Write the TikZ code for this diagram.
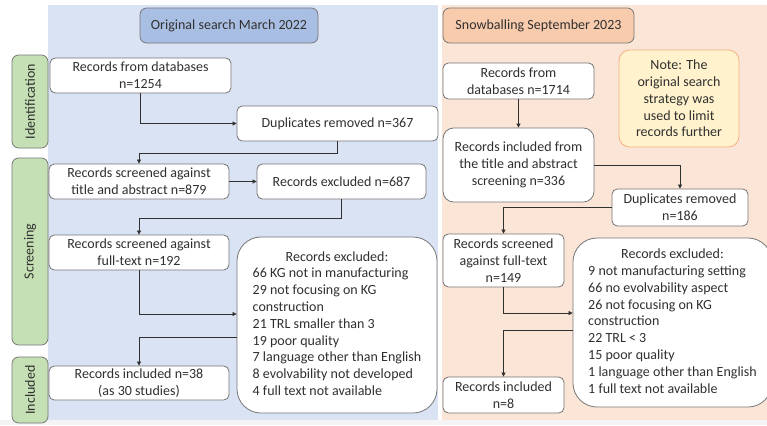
\documentclass[tikz,border=0pt]{standalone}
\usepackage{fontspec}
\setmainfont{Carlito}
\usetikzlibrary{arrows.meta}
\definecolor{panelblue}{HTML}{DAE3F3}
\definecolor{panelpeach}{HTML}{FBE5D6}
\definecolor{titleblue}{HTML}{A9BEE3}
\definecolor{titlepeach}{HTML}{F8CBAD}
\definecolor{phasegreen}{HTML}{C5E0B4}
\definecolor{notefill}{HTML}{FFF2CC}
\definecolor{noteedge}{HTML}{F4B183}
\definecolor{edgegray}{HTML}{767676}
\definecolor{txtgray}{HTML}{303030}
\definecolor{bggray}{HTML}{F4F4F4}
\tikzset{
  box/.style={draw=edgegray, fill=white, rounded corners=4pt, line width=0.6pt,
    text=txtgray, align=center, inner sep=1pt},
  bigbox/.style={box, rounded corners=18pt},
  titlebox/.style={draw=edgegray, rounded corners=5pt, line width=0.6pt,
    text=txtgray, align=center, inner sep=1pt},
  phase/.style={draw=edgegray, fill=phasegreen, rounded corners=5pt, line width=0.6pt,
    text=txtgray, rotate=90, inner sep=1pt},
  notebox/.style={draw=noteedge, fill=notefill, rounded corners=8pt, line width=0.6pt,
    text=txtgray, align=center, inner sep=1pt},
  flow/.style={draw=txtgray, line width=0.5pt, -{Triangle[length=3pt,width=3pt]}}
}
\begin{document}
\begin{tikzpicture}[x=0.75pt,y=-0.75pt, font=\fontsize{10.5}{12.6}\selectfont]
\useasboundingbox (0,0) rectangle (767,425);
\fill[white] (0,0) rectangle (767,425);
\fill[bggray] (0,420) rectangle (767,425);
% panels
\fill[panelblue] (48,5) rectangle (438,420);
\fill[panelpeach] (442,5) rectangle (767,420);
% titles
\node[titlebox, fill=titleblue, minimum width=178*0.75pt, minimum height=35*0.75pt] (t1) at (229,25.5) {Original search March 2022};
\node[titlebox, fill=titlepeach, minimum width=191*0.75pt, minimum height=35*0.75pt] (t2) at (538.5,25.5) {Snowballing September 2023};
% phases
\node[phase, minimum width=93*0.75pt, minimum height=36*0.75pt] (p1) at (30,101.5) {Identification};
\node[phase, minimum width=187*0.75pt, minimum height=36*0.75pt] (p2) at (30,251.5) {Screening};
\node[phase, minimum width=66*0.75pt, minimum height=36*0.75pt] (p3) at (30,390) {Included};
% left column
\node[box, minimum width=181*0.75pt, minimum height=35*0.75pt] (L1) at (140.5,75.5) {Records from databases\\n=1254};
\node[box, minimum width=201*0.75pt, minimum height=35*0.75pt] (L2) at (337.5,123.5) {Duplicates removed n=367};
\node[box, minimum width=180*0.75pt, minimum height=35*0.75pt] (L3) at (139,181.5) {Records screened against\\title and abstract n=879};
\node[box, minimum width=169*0.75pt, minimum height=35*0.75pt] (L4) at (341.5,181.5) {Records excluded n=687};
\node[box, minimum width=180*0.75pt, minimum height=35*0.75pt] (L5) at (139,252.5) {Records screened against\\full-text n=192};
\node[bigbox, minimum width=200*0.75pt, minimum height=176*0.75pt] (L6) at (337,325) {\begin{tabular}{@{}l@{}}\multicolumn{1}{@{}c@{}}{Records excluded:}\\
66 KG not in manufacturing\\
29 not focusing on KG\\
construction\\
21 TRL smaller than 3\\
19 poor quality\\
7 language other than English\\
8 evolvability not developed\\
4 full text not available\end{tabular}};
\node[box, minimum width=180*0.75pt, minimum height=34*0.75pt] (L7) at (139,383) {Records included n=38\\(as 30 studies)};
% right column
\node[box, minimum width=151*0.75pt, minimum height=36*0.75pt] (R1) at (518.5,81) {Records from\\databases n=1714};
\node[box, rounded corners=8pt, minimum width=151*0.75pt, minimum height=74*0.75pt] (R2) at (518.5,165) {Records included from\\the title and abstract\\screening n=336};
\node[box, minimum width=136*0.75pt, minimum height=37*0.75pt] (R3) at (680,207.5) {Duplicates removed\\n=186};
\node[box, minimum width=121*0.75pt, minimum height=53*0.75pt] (R4) at (503.5,260.5) {Records screened\\against full-text\\n=149};
\node[bigbox, minimum width=199*0.75pt, minimum height=169*0.75pt] (R5) at (672.5,322.5) {\begin{tabular}{@{}l@{}}\multicolumn{1}{@{}c@{}}{Records excluded:}\\
9 not manufacturing setting\\
66 no evolvability aspect\\
26 not focusing on KG\\
construction\\
22 TRL < 3\\
15 poor quality\\
1 language other than English\\
1 full text not available\end{tabular}};
\node[box, minimum width=121*0.75pt, minimum height=36*0.75pt] (R6) at (503.5,395) {Records included\\n=8};
\node[notebox, minimum width=120*0.75pt, minimum height=97*0.75pt] (N) at (679,98.5) {Note: The\\original search\\strategy was\\used to limit\\records further};
% left connectors
\draw[flow] (L1.south) |- (L2.west);
\draw[flow] (L2.south) -- ++(0,12) -| (L3.north);
\draw[flow] (L3.east) -- (L4.west);
\draw[flow] (L4.south) -- ++(0,19) -| (L5.north);
\draw[flow] (L5.south) |- ([yshift=8.25pt]L6.west);
\draw[flow] ([yshift=-9pt]L6.west) -| (L7.north);
% right connectors
\draw[flow] (R1.south) -- (R2.north);
\draw[flow] (R2.east) -| (R3.north);
\draw[flow] (R3.west) -| (R4.north);
\draw[flow] (R4.south) |- ([yshift=7.1pt]R5.west);
\draw[flow] ([yshift=-5.6pt]R5.west) -| (R6.north);
\end{tikzpicture}
\end{document}
